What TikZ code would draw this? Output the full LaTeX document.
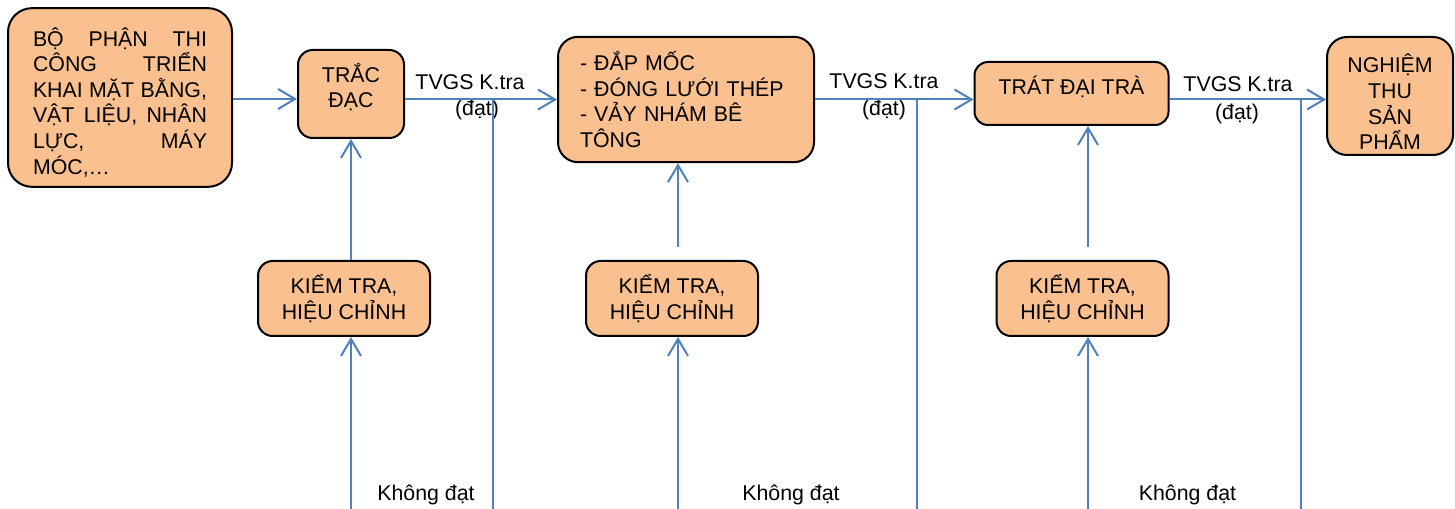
\documentclass[tikz,border=0pt]{standalone}
\usepackage{fontspec}
\setmainfont{Liberation Sans}
\usetikzlibrary{arrows.meta,calc}
\definecolor{boxfill}{HTML}{FAC090}
\definecolor{lineblue}{HTML}{4F81BD}
\newcommand{\fs}{\fontsize{16pt}{19.2pt}\selectfont}
\tikzset{
  pbox/.style={draw=black, line width=1.5pt, fill=boxfill, rounded corners=#1,
    inner sep=0pt, font=\fs, align=center},
  flow/.style={draw=lineblue, line width=1.5pt},
  arr/.style={flow, -{Straight Barb[length=12.75pt, width=15pt]}},
  lbl/.style={font=\fs, inner sep=0pt},
}
\begin{document}
\begin{tikzpicture}[x=0.75pt, y=-0.75pt]
\useasboundingbox (0,0) rectangle (1455,509);
% main boxes
\node[pbox=18pt, minimum width=168pt, minimum height=134pt, text width=130.5pt, align=justify]
  (b1) at (120,97.5) {\rule{0pt}{21pt}BỘ PHẬN THI\linebreak CÔNG TRIỂN\linebreak KHAI MẶT BẰNG,\linebreak VẬT LIỆU, NHÂN\linebreak LỰC, MÁY\linebreak MÓC,…};
\node[pbox=11pt, minimum width=79.5pt, minimum height=66pt] (tr) at (351,94)
  {TRẮC\\ĐẠC\rule[-12.75pt]{0pt}{0pt}};
\node[pbox=15pt, minimum width=192pt, minimum height=94pt, text width=159pt, align=left]
  (b3) at (686,99.5) {- ĐẮP MỐC\\- ĐÓNG LƯỚI THÉP\\- VẢY NHÁM BÊ\\TÔNG};
\node[pbox=10pt, minimum width=145.5pt, minimum height=47.25pt] (b4) at (1071.5,93.5)
  {TRÁT ĐẠI TRÀ\rule[-12.5pt]{0pt}{0pt}};
\node[pbox=15pt, minimum width=94.5pt, minimum height=88.5pt] (b5) at (1390,96)
  {\rule{0pt}{23pt}NGHIỆM\\THU\\SẢN\\PHẨM};
% check boxes
\node[pbox=11pt, minimum width=129pt, minimum height=56.25pt] (k1) at (344,298.5) {KIỂM TRA,\\HIỆU CHỈNH};
\node[pbox=11pt, minimum width=129pt, minimum height=56.25pt] (k2) at (672,298.5) {KIỂM TRA,\\HIỆU CHỈNH};
\node[pbox=11pt, minimum width=129pt, minimum height=56.25pt] (k3) at (1082.5,298.5) {KIỂM TRA,\\HIỆU CHỈNH};
% labels
\node[lbl] (t1) at (470,82.5) {TVGS K.tra};
\node[lbl] (d1) at (477,109.5) {(đạt)};
\node[lbl] (t2) at (884,81.5) {TVGS K.tra};
\node[lbl] (d2) at (884,110) {(đạt)};
\node[lbl] (t3) at (1238,84.5) {TVGS K.tra};
\node[lbl] (d3) at (1237,114) {(đạt)};
\node[lbl] (n1) at (426,495) {Không đạt};
\node[lbl] (n2) at (791,495) {Không đạt};
\node[lbl] (n3) at (1187.5,495) {Không đạt};
% coordinates of the loop lines
\coordinate (j1) at (493,99.5);  \coordinate (f1) at (493,509.5);  \coordinate (g1) at (351,509.5);
\coordinate (j2) at (917,99.5);  \coordinate (f2) at (917,509.5);  \coordinate (g2) at (678,509.5);
\coordinate (j3) at (1301,99.5); \coordinate (f3) at (1301,509.5); \coordinate (g3) at (1088,509.5);
% main flow
\draw[arr] (b1.east |- 0,99) -- (tr.west |- 0,99);
\draw[arr] (tr.east |- j1) -- (b3.west |- j1);
\draw[arr] (b3.east |- j2) -- (b4.west |- j2);
\draw[arr] (b4.east |- j3) -- (b5.west |- j3);
% feedback loops
\draw[arr] (j1) -- (f1) -- (g1) -- (g1 |- k1.south);
\draw[arr] (j2) -- (f2) -- (g2) -- (g2 |- k2.south);
\draw[arr] (j3) -- (f3) -- (g3) -- (g3 |- k3.south);
\draw[arr] (g1 |- k1.north) -- (g1 |- tr.south);
\draw[arr] ($(g2 |- k2.north)+(0,-13)$) -- (g2 |- b3.south);
\draw[arr] ($(g3 |- k3.north)+(0,-13)$) -- (g3 |- b4.south);
\end{tikzpicture}
\end{document}
